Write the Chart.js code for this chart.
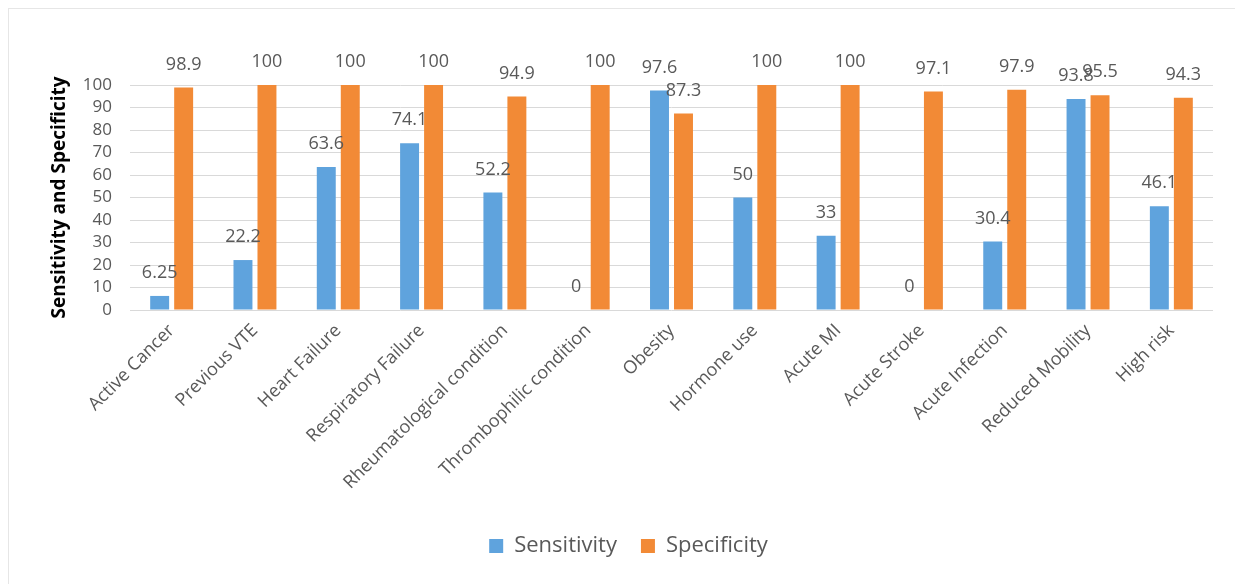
<!DOCTYPE html>
<html>
<head>
<meta charset="utf-8">
<script src="https://cdn.jsdelivr.net/npm/chart.js@4"></script>
<style>
  html, body { margin: 0; padding: 0; background: #fff; }
  #wrap { position: relative; width: 1235px; height: 584px; }
  #frame { position: absolute; left: 8px; top: 8px; right: -5px; bottom: -5px; border: 1px solid #e6e6e6; }
  canvas { position: absolute; left: 0; top: 0; }
</style>
</head>
<body>
<div id="wrap">
  <div id="frame"></div>
  <canvas id="chart" width="1235" height="584"></canvas>
</div>
<script>
const categories = ["Active Cancer", "Previous VTE", "Heart Failure", "Respiratory Failure",
  "Rheumatological condition", "Thrombophilic condition", "Obesity", "Hormone use",
  "Acute MI", "Acute Stroke", "Acute Infection", "Reduced Mobility", "High risk"];
const sensitivity = [6.25, 22.2, 63.6, 74.1, 52.2, 0, 97.6, 50, 33, 0, 30.4, 93.8, 46.1];
const specificity = [98.9, 100, 100, 100, 94.9, 100, 87.3, 100, 100, 97.1, 97.9, 95.5, 94.3];
const yTicks = [0, 10, 20, 30, 40, 50, 60, 70, 80, 90, 100];

const font = "'Open Sans', sans-serif";
const gray = "#595959";

// labels above each bar, like Excel "outside end"
const barLabels = {
  id: "barLabels",
  afterDatasetsDraw(chart) {
    const ctx = chart.ctx;
    ctx.save();
    ctx.font = "18px " + font;
    ctx.fillStyle = gray;
    ctx.textAlign = "center";
    ctx.textBaseline = "middle";
    chart.data.datasets.forEach((ds, i) => {
      chart.getDatasetMeta(i).data.forEach((bar, j) => {
        ctx.fillText(String(ds.data[j]), bar.x, bar.y - 23);
      });
    });
    ctx.restore();
  }
};

new Chart(document.getElementById("chart"), {
  type: "bar",
  data: {
    labels: categories,
    datasets: [
      { label: "Sensitivity", data: sensitivity, backgroundColor: "#5fa3dd",
        categoryPercentage: 0.576, barPercentage: 0.79 },
      { label: "Specificity", data: specificity, backgroundColor: "#f28a36",
        categoryPercentage: 0.576, barPercentage: 0.79 }
    ]
  },
  options: {
    responsive: false,
    animation: false,
    layout: { padding: { top: 85, left: 44, right: 22, bottom: 17 } },
    scales: {
      x: {
        afterFit: s => { s.height = 201; },
        grid: { display: false },
        border: { display: false },
        ticks: { color: gray, font: { family: font, size: 18 }, minRotation: 45, maxRotation: 45, padding: 2 }
      },
      y: {
        min: 0, max: 100,
        afterBuildTicks: s => { s.ticks = yTicks.map(v => ({ value: v })); },
        afterFit: s => { s.width = 86; },
        grid: { color: "#d9d9d9", drawTicks: false },
        border: { display: false },
        ticks: { color: gray, font: { family: font, size: 17 }, padding: 18, autoSkip: false },
        title: { display: true, text: "Sensitivity and Specificity", color: "#000",
          font: { family: font, size: 19, weight: "bold" }, padding: { top: 4, bottom: 0 } }
      }
    },
    plugins: {
      legend: {
        position: "bottom",
        labels: { color: gray, boxWidth: 14, boxHeight: 14, padding: 24,
          font: { family: font, size: 22 } }
      },
      tooltip: { enabled: false }
    }
  },
  plugins: [barLabels]
});
</script>
</body>
</html>
